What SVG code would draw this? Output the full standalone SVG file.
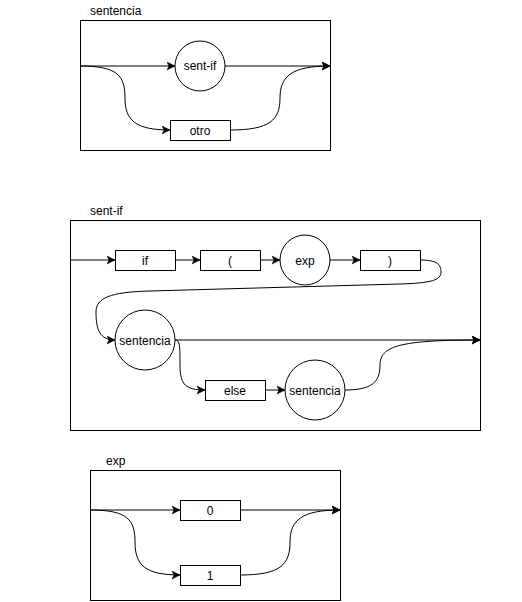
<svg xmlns="http://www.w3.org/2000/svg" width="522" height="602" viewBox="0 0 522 602">
<defs>
<style>
.frame{fill:#fff;stroke:#000;stroke-width:1}
.n{fill:#fff;stroke:#000;stroke-width:1}
.c{fill:none;stroke:#000;stroke-width:1}
text{font-family:"Liberation Sans",Arial,sans-serif;font-size:12px;fill:#000}
.m{text-anchor:middle;dominant-baseline:central}
</style>
<marker id="a" markerUnits="userSpaceOnUse" markerWidth="10" markerHeight="10" refX="8" refY="4" orient="auto">
<path d="M0,0 L8,4 L0,8 L2,4 Z" fill="#000" stroke="#000" stroke-width="0.5"/>
</marker>
</defs>
<rect width="522" height="602" fill="#fff"/>

<g id="frame-sentencia">
<rect class="frame" x="80.5" y="20.5" width="250" height="130"/>
<text x="90" y="15">sentencia</text>
</g>
<g id="frame-sent-if">
<rect class="frame" x="70.5" y="220.5" width="410" height="210"/>
<text x="90" y="215">sent-if</text>
</g>
<g id="frame-exp">
<rect class="frame" x="90.5" y="470.5" width="250" height="130"/>
<text x="106" y="465">exp</text>
</g>

<g id="connectors">
<path class="c" d="M80,66 L175,66" marker-end="url(#a)"/>
<path class="c" d="M225,66 L330,66" marker-end="url(#a)"/>
<path class="c" d="M80,66 C118,66 125,76 125,98 C125,120 135,130 170,130" marker-end="url(#a)"/>
<path class="c" d="M230,130 C270,130 280,120 280,98 C280,76 292,66 330,66" marker-end="url(#a)"/>

<path class="c" d="M70,260 L115,260" marker-end="url(#a)"/>
<path class="c" d="M175,260 L200,260" marker-end="url(#a)"/>
<path class="c" d="M260,260 L280,260" marker-end="url(#a)"/>
<path class="c" d="M330,260 L360,260" marker-end="url(#a)"/>
<path class="c" d="M420,260 C438,260 441,265 441,272 C441,280 432,283 400,284 L150,291 C110,292 96,298 96,312 C96,330 100,340 115,340" marker-end="url(#a)"/>
<path class="c" d="M175,340 L480,340" marker-end="url(#a)"/>
<path class="c" d="M175,340 C180,340 180,346 180,365 C180,385 186,390 205,390" marker-end="url(#a)"/>
<path class="c" d="M265,390 L285,390" marker-end="url(#a)"/>
<path class="c" d="M345,390 C372,390 380,382 380,365 C380,346 400,340 480,340" marker-end="url(#a)"/>

<path class="c" d="M90,510 L180,510" marker-end="url(#a)"/>
<path class="c" d="M240,510 L340,510" marker-end="url(#a)"/>
<path class="c" d="M90,510 C128,510 135,520 135,542 C135,565 145,575 180,575" marker-end="url(#a)"/>
<path class="c" d="M240,575 C280,575 290,565 290,542 C290,520 302,510 340,510" marker-end="url(#a)"/>
</g>

<g id="sent-if-1">
<circle class="n" cx="200" cy="66" r="25"/>
<text class="m" x="200" y="66">sent-if</text>
</g>
<g id="otro">
<rect class="n" x="170.5" y="120.5" width="60" height="20"/>
<text class="m" x="200" y="130.5">otro</text>
</g>

<g id="if">
<rect class="n" x="115.5" y="250.5" width="60" height="20"/>
<text class="m" x="145" y="260.5">if</text>
</g>
<g id="lparen">
<rect class="n" x="200.5" y="250.5" width="60" height="20"/>
<text class="m" x="230" y="260.5">(</text>
</g>
<g id="exp-1">
<circle class="n" cx="305" cy="260" r="25"/>
<text class="m" x="305" y="260.5">exp</text>
</g>
<g id="rparen">
<rect class="n" x="360.5" y="250.5" width="60" height="20"/>
<text class="m" x="390" y="260.5">)</text>
</g>
<g id="sentencia-1">
<circle class="n" cx="145" cy="340" r="30"/>
<text class="m" x="145" y="340.5">sentencia</text>
</g>
<g id="else">
<rect class="n" x="205.5" y="380.5" width="60" height="20"/>
<text class="m" x="235" y="390.5">else</text>
</g>
<g id="sentencia-2">
<circle class="n" cx="315" cy="390" r="30"/>
<text class="m" x="315" y="390.5">sentencia</text>
</g>

<g id="zero">
<rect class="n" x="180.5" y="500.5" width="60" height="20"/>
<text class="m" x="210" y="510.5">0</text>
</g>
<g id="one">
<rect class="n" x="180.5" y="565.5" width="60" height="20"/>
<text class="m" x="210" y="575.5">1</text>
</g>
</svg>
